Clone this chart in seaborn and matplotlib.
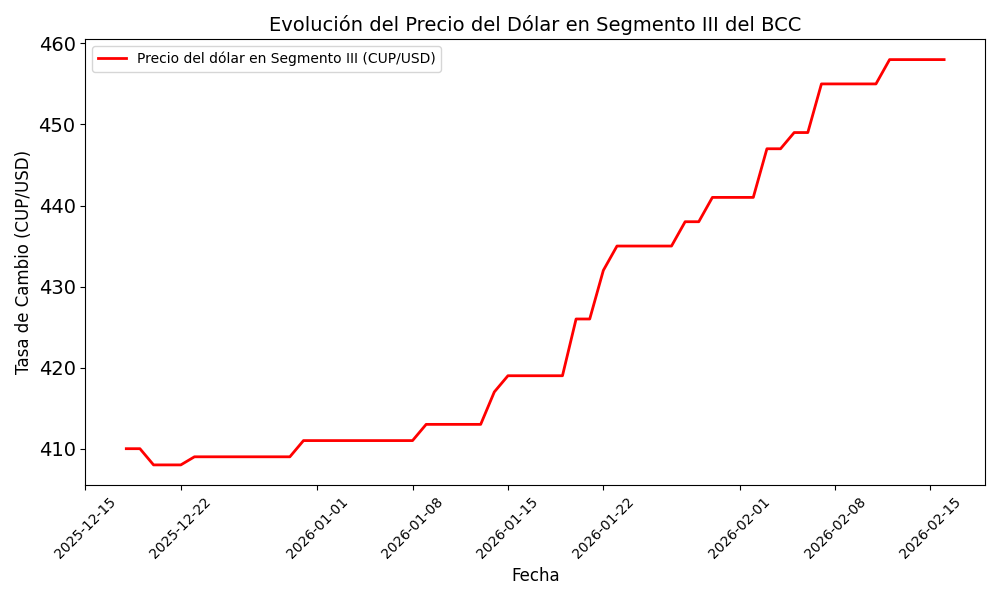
import matplotlib
matplotlib.use("Agg")
import matplotlib.pyplot as plt
import matplotlib.dates as mdates
import seaborn as sns
import pandas as pd

start_date = "2025-12-18"
end_date = "2026-02-16"
precios = [
    410, 410,
    408, 408, 408,
    409, 409, 409, 409, 409, 409, 409, 409,
    411, 411, 411, 411, 411, 411, 411, 411, 411,
    413, 413, 413, 413, 413,
    417,
    419, 419, 419, 419, 419,
    426, 426,
    432,
    435, 435, 435, 435, 435,
    438, 438,
    441, 441, 441, 441,
    447, 447,
    449, 449,
    455, 455, 455, 455, 455,
    458, 458, 458, 458, 458,
]
serie_label = "Precio del dólar en Segmento III (CUP/USD)"

fechas = pd.date_range(start_date, end_date, freq="D")
df = pd.DataFrame({"Fecha": fechas, "Precio": precios})

fig, ax = plt.subplots(figsize=(10, 6), dpi=100)
sns.lineplot(data=df, x="Fecha", y="Precio", ax=ax, color="red",
             linewidth=2, label=serie_label)

ax.set_title("Evolución del Precio del Dólar en Segmento III del BCC", fontsize=14)
ax.set_xlabel("Fecha", fontsize=12)
ax.set_ylabel("Tasa de Cambio (CUP/USD)", fontsize=12)
ax.xaxis.set_major_formatter(mdates.DateFormatter("%Y-%m-%d"))
plt.setp(ax.get_xticklabels(), rotation=45, fontsize=10)
ax.tick_params(axis="y", labelsize=14)
ax.legend(loc="upper left", fontsize=10)
fig.tight_layout()
fig.savefig("out.png", dpi=100)
